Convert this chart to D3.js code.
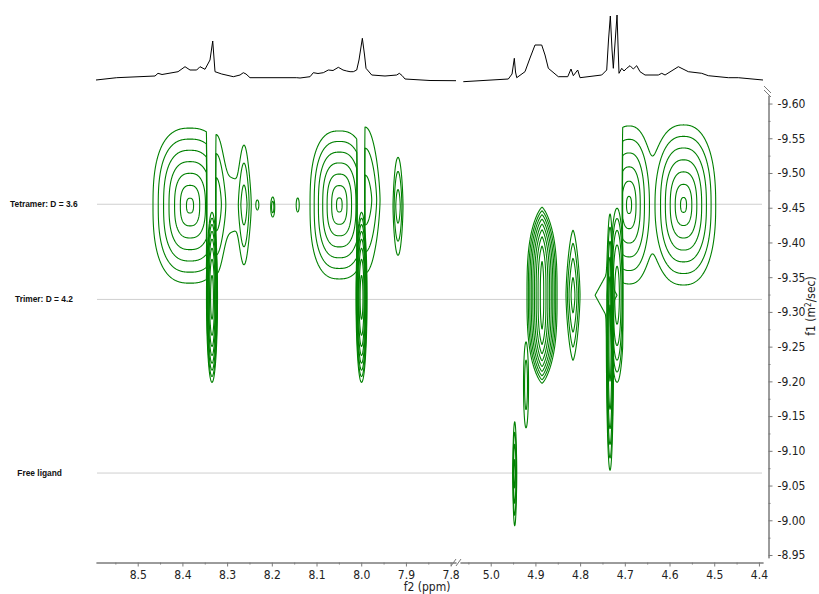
<!DOCTYPE html>
<html><head><meta charset="utf-8">
<script src="https://cdn.jsdelivr.net/npm/d3@7"></script>
<style>
body{margin:0;background:#fff;}
svg{display:block;}
</style></head><body>
<svg id="c" width="819" height="594"></svg>
<script>
// ---------------- data ----------------
const xTicksLeft  = [8.5, 8.4, 8.3, 8.2, 8.1, 8.0, 7.9, 7.8];
const xMinorLeft  = [8.55, 8.45, 8.35, 8.25, 8.15, 8.05, 7.95, 7.85];
const xTicksRight = [5.0, 4.9, 4.8, 4.7, 4.6, 4.5, 4.4];
const xMinorRight = [5.05, 4.95, 4.85, 4.75, 4.65, 4.55, 4.45];
const yTicks = [-9.60, -9.55, -9.50, -9.45, -9.40, -9.35, -9.30, -9.25, -9.20, -9.15, -9.10, -9.05, -9.00, -8.95];
const yMinor = [-9.575, -9.525, -9.475, -9.425, -9.375, -9.325, -9.275, -9.225, -9.175, -9.125, -9.075, -9.025, -8.975];

const speciesLabels = ["Tetramer: D = 3.6", "Trimer: D = 4.2", "Free ligand"];
const speciesLogD   = [-9.455, -9.318, -9.068];

// 1D projection spectrum (top), ppm and intensity
const specLeftPpm = [8.5933,8.547,8.4613,8.4546,8.4456,8.4098,8.3942,8.383,8.368,8.3607,8.3495,8.3383,8.3322,8.3271,8.3121,8.2861,8.2711,8.2638,8.2577,8.2488,8.1443,8.1369,8.1145,8.1072,8.0967,8.0848,8.0736,8.0631,8.0512,8.0407,8.0324,8.025,8.0177,8.0101,8.005,7.9975,7.9926,7.9893,7.9765,7.9468,7.9206,7.9148,7.9087,7.902,7.8461,7.788];
const specLeftInt = [2,4.3,6,8.7,7.5,10.3,15.3,12,12,15.3,12.7,22,41,10.3,8,5.3,7,9.3,8,4.3,4.3,4,5.3,9.3,8.5,9.3,12,11.5,14.7,12,11,10.3,10.3,12,22,43.7,27,13.7,7,6,7,8.7,6.5,3,1.5,1.3];
const specRightPpm = [5.0613,4.9606,4.9523,4.9472,4.9445,4.9418,4.9233,4.9121,4.9009,4.8859,4.8785,4.8711,4.8488,4.8277,4.8204,4.8152,4.8054,4.8002,4.7517,4.7405,4.7365,4.7324,4.7286,4.7257,4.723,4.7174,4.7152,4.713,4.7069,4.7018,4.6957,4.6884,4.681,4.6734,4.666,4.6548,4.6251,4.6174,4.61,4.5803,4.5579,4.528,4.5132,4.4685,4.4461,4.3909];
const specRightInt = [0.3,3,8,23.7,10,4.3,10.3,24,37,37,27,13.7,5.3,5.3,13,6.3,12,4.3,7,12,42,66,32,13.7,32,67,37,8.7,13.7,11,13.7,16.3,13,16.3,10.3,7,7,8.7,7,15.3,10.3,8.7,6.3,4.3,4.3,2];

// DOSY cross peaks: group, segment, ppm, logD, half-width (ppm), half-width (logD), contour levels, shape exponents, profile
const peakGroup   = ["G1","G2","G2","G2","G3","G4","G5","G6","G7","G8","G9","G10","R1","R2","R3","R4","R4","R5","R6","R6","R7"];
const peakSeg     = ["L","L","L","L","L","L","L","L","L","L","L","L","R","R","R","R","R","R","R","R","R"];
const peakPpm     = [8.383,8.3248,8.2622,8.2935,8.3338,8.2324,8.198,8.1421,8.049,7.9915,7.9993,7.9177,4.8852,4.921,4.8159,4.7331,4.742,4.7174,4.6906,4.5687,4.9463];
const peakLogD    = [-9.453,-9.455,-9.454,-9.454,-9.321,-9.454,-9.451,-9.454,-9.454,-9.461,-9.321,-9.452,-9.324,-9.195,-9.324,-9.255,-9.324,-9.324,-9.454,-9.454,-9.067];
const peakWPpm    = [0.0828,0.0224,0.0134,0.0358,0.0123,0.0034,0.0045,0.0034,0.0655,0.0336,0.0123,0.0112,0.0336,0.0056,0.0157,0.0078,0.0246,0.0157,0.052,0.072,0.0045];
const peakWLogD   = [0.1116,0.0993,0.0835,0.0389,0.1224,0.0072,0.0144,0.0101,0.1065,0.1051,0.1224,0.0705,0.1267,0.0619,0.0936,0.1828,0.0288,0.1253,0.1137,0.1152,0.0749];
const peakLevels  = [7,3,3,1,8,1,2,1,7,3,8,3,9,2,4,6,1,5,6,7,4];
const peakShapeP  = [2.6,2,2,2,2,2,2,2,2.6,2,2,2,1.3,2,1.5,2,1,2,2.4,2.4,2];
const peakShapeD  = [2.6,1.5,1.3,2,2,2,2,2,2.6,1.5,2,1.5,3,2,1.5,2,1,2,2.4,2.4,1.5];
const peakProfile = [0.42,1,1,1,1,1,1,1,0.42,1,1,1,1,1,1,1,1,1,0.45,0.45,1];
// processing window edges
const cutGroup = ["G1","G2","G7","G8","R5","R6"];
const cutPpm   = [8.3461,8.3248,8.0101,7.9915,4.7047,4.7047];
const cutKeep  = ["above","below","above","below","above","below"];

// ---------------- chart ----------------
const svg = d3.select("#c");
const FONT = "'DejaVu Sans Condensed','DejaVu Sans',sans-serif";
const GREEN = "#008000";

const xL = d3.scaleLinear().domain([8.5933, 7.788]).range([96, 456]);
const xR = d3.scaleLinear().domain([5.0687, 4.3909]).range([460, 763]);
const y  = d3.scaleLinear().domain([-9.612, -8.946]).range([95.2, 557.8]);
const ySpec = d3.scaleLinear().domain([0, 68]).range([82, 14]);
const segScale = {L: xL, R: xR};

const defs = svg.append("defs");
defs.append("clipPath").attr("id","clipL").append("rect").attr("x",96).attr("y",95).attr("width",360).attr("height",465);
defs.append("clipPath").attr("id","clipR").append("rect").attr("x",460).attr("y",95).attr("width",304).attr("height",465);

// species lines
svg.append("g").selectAll("line").data(speciesLogD).join("line")
  .attr("x1", 97).attr("x2", 762)
  .attr("y1", d => y(d)).attr("y2", d => y(d))
  .attr("stroke", "#cfcfcf").attr("stroke-width", 1);

// species labels
const labX = [10, 15, 17.3];
svg.append("g").selectAll("text").data(speciesLabels).join("text")
  .attr("x", (d,i) => labX[i]).attr("y", (d,i) => y(speciesLogD[i]) + 3)
  .attr("font-family", "'Liberation Sans',Arial,sans-serif").attr("font-size", 8.4).attr("font-weight", "bold")
  .attr("fill", "#111").text(d => d);

// contours
const gCL = svg.append("g").attr("clip-path","url(#clipL)");
const gCR = svg.append("g").attr("clip-path","url(#clipR)");
const dp = 0.0008, dv = 0.0012, DELTA = 0.5;
const thresholds = d3.range(0, 10).map(k => Math.exp(k));
const groups = Array.from(new Set(peakGroup));
groups.forEach(g => {
  const idx = peakGroup.map((v,i) => v === g ? i : -1).filter(i => i >= 0);
  const seg = peakSeg[idx[0]];
  const xs = segScale[seg];
  let pHi = d3.max(idx, i => peakPpm[i] + 1.8*peakWPpm[i]);
  let pLo = d3.min(idx, i => peakPpm[i] - 1.8*peakWPpm[i]);
  const vLo = d3.min(idx, i => peakLogD[i] - 1.8*peakWLogD[i]);
  const vHi = d3.max(idx, i => peakLogD[i] + 1.8*peakWLogD[i]);
  const ci = cutGroup.indexOf(g);
  if (ci >= 0) {
    if (cutKeep[ci] === "above") pLo = Math.max(pLo, cutPpm[ci] - 3*dp);
    else pHi = Math.min(pHi, cutPpm[ci] + 3*dp);
  }
  const nx = Math.ceil((pHi - pLo)/dp) + 1, ny = Math.ceil((vHi - vLo)/dv) + 1;
  const vals = new Float64Array(nx*ny);
  for (let j = 0; j < ny; j++) {
    const v = vLo + j*dv;
    for (let i = 0; i < nx; i++) {
      const p = pHi - i*dp;
      if (ci >= 0 && ((cutKeep[ci] === "above" && p < cutPpm[ci]) || (cutKeep[ci] === "below" && p > cutPpm[ci]))) continue;
      let s = 0;
      for (const k of idx) {
        const rx = Math.abs(p - peakPpm[k]) / peakWPpm[k];
        const ry = Math.abs(v - peakLogD[k]) / peakWLogD[k];
        const rho = Math.pow(Math.pow(rx, peakShapeP[k]) + Math.pow(ry, peakShapeD[k]), peakProfile[k]);
        s += Math.exp((peakLevels[k] - 1 + DELTA) * (1 - rho));
      }
      vals[j*nx + i] = s;
    }
  }
  const cs = d3.contours().size([nx, ny]).thresholds(thresholds)(vals).filter(c => c.coordinates.length);
  const proj = d3.geoTransform({point(px, py) { this.stream.point(xs(pHi - (px - 0.5)*dp), y(vLo + (py - 0.5)*dv)); }});
  const path = d3.geoPath(proj);
  (seg === "L" ? gCL : gCR).append("g").selectAll("path").data(cs).join("path")
    .attr("d", path).attr("fill", "none").attr("stroke", GREEN)
    .attr("stroke-width", 1.1).attr("stroke-linejoin", "round");
});

// top 1D spectrum
const specLine = (xs) => d3.line().x(d => xs(d[0])).y(d => ySpec(d[1]));
svg.append("path").datum(d3.zip(specLeftPpm, specLeftInt)).attr("d", specLine(xL))
  .attr("fill","none").attr("stroke","#000").attr("stroke-width",1);
svg.append("path").datum(d3.zip(specRightPpm, specRightInt)).attr("d", specLine(xR))
  .attr("fill","none").attr("stroke","#000").attr("stroke-width",1);

// axes
const AX = "#7a7a7a";
function styleAxis(sel) {
  sel.select(".domain").attr("stroke", AX);
  sel.selectAll(".tick line").attr("stroke", AX);
  sel.selectAll(".tick text").attr("fill", "#222").attr("font-family", FONT).attr("font-size", 12);
}
const xAxisY = 562.5;
[[xL, xTicksLeft, xMinorLeft], [xR, xTicksRight, xMinorRight]].forEach(([sc, maj, mnr]) => {
  svg.append("g").attr("transform", `translate(0,${xAxisY})`)
    .call(d3.axisBottom(sc).tickValues(mnr).tickFormat("").tickSize(2).tickSizeOuter(0)).call(styleAxis);
  svg.append("g").attr("transform", `translate(0,${xAxisY})`)
    .call(d3.axisBottom(sc).tickValues(maj).tickFormat(d3.format(".1f")).tickSize(4).tickSizeOuter(0).tickPadding(4)).call(styleAxis);
});
// x break marks
svg.append("g").selectAll("line").data([0, 5]).join("line")
  .attr("x1", d => 451 + d).attr("y1", 566).attr("x2", d => 456 + d).attr("y2", 559)
  .attr("stroke", AX).attr("stroke-width", 1);

const yAxisX = 768.5;
svg.append("g").attr("transform", `translate(${yAxisX},0)`)
  .call(d3.axisRight(y).tickValues(yMinor).tickFormat("").tickSize(2).tickSizeOuter(0)).call(styleAxis);
svg.append("g").attr("transform", `translate(${yAxisX},0)`)
  .call(d3.axisRight(y).tickValues(yTicks).tickFormat(d => d.toFixed(2)).tickSize(4).tickSizeOuter(0).tickPadding(5)).call(styleAxis);
// y break marks
svg.append("g").selectAll("line").data([0, 4]).join("line")
  .attr("x1", 764).attr("y1", d => 86 + d).attr("x2", 771).attr("y2", d => 93 + d)
  .attr("stroke", AX).attr("stroke-width", 1);

// axis titles
svg.append("text").attr("x", 427).attr("y", 591).attr("text-anchor","middle")
  .attr("font-family", FONT).attr("font-size", 12).attr("fill", "#222").text("f2 (ppm)");
const yt = svg.append("text").attr("transform", "translate(815,306) rotate(-90)").attr("text-anchor","middle")
  .attr("font-family", FONT).attr("font-size", 12).attr("fill", "#222");
yt.append("tspan").text("f1 (m");
yt.append("tspan").attr("baseline-shift","super").attr("font-size", 8).text("2");
yt.append("tspan").text("/sec)");
</script>
</body></html>
